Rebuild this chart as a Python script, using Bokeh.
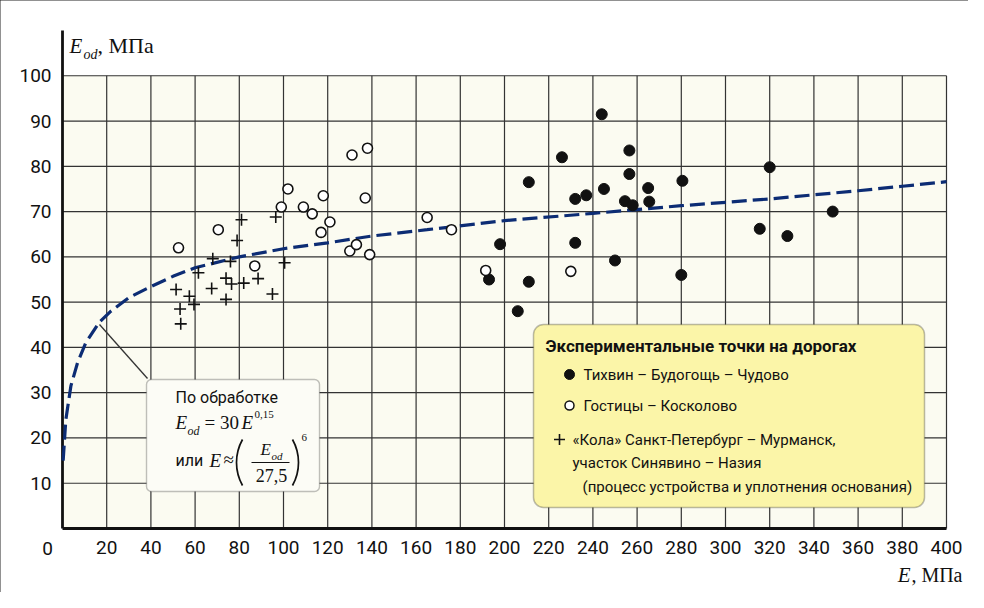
import math
from bokeh.plotting import figure
from bokeh.models import FixedTicker, Label, BoxAnnotation
from bokeh.embed import file_html
from bokeh.resources import INLINE

# ---------------- data ----------------
x_ticks = list(range(20, 401, 20))
y_ticks = list(range(10, 101, 10))

# Тихвин – Будогощь – Чудово (filled circles)
tikh_E = [244, 226, 256.5, 256.5, 211, 280.5, 320, 245, 265, 237, 232, 254.5,
          258, 265.5, 348.5, 315.5, 328, 198, 232, 250, 280, 193, 211, 206]
tikh_Eod = [91.5, 82, 83.5, 78.3, 76.5, 76.8, 79.8, 75, 75.2, 73.6, 72.8, 72.3,
            71.4, 72.2, 70, 66.2, 64.6, 62.8, 63.1, 59.2, 56, 55, 54.5, 48]

# Гостицы – Косколово (open circles)
gost_E = [52.5, 70.5, 87, 99, 102, 109, 113, 118, 121, 117, 131, 138, 137,
          130, 133, 139, 165, 176, 191.5, 230]
gost_Eod = [62, 66, 58, 71, 75, 71, 69.5, 73.5, 67.7, 65.4, 82.5, 84, 73,
            61.3, 62.7, 60.5, 68.7, 66, 57, 56.8]

# «Кола» (crosses)
kola_E = [51.4, 53.5, 53.2, 57.4, 59.5, 61.5, 68, 67.5, 74, 76, 76.5, 74, 79,
          81, 82, 88.5, 95, 96.5, 100.5]
kola_Eod = [52.8, 45.2, 48.5, 51.3, 49.5, 56.5, 59.6, 53, 55.3, 59, 54, 50.6,
            63.6, 68.2, 54.2, 55.2, 51.8, 68.8, 58.7]

# fitted curve
curve_E = [0.3, 1.5, 3.8, 6.8, 10.5, 16.6, 21.9, 30, 39, 50, 60, 80, 100, 120,
           140, 165, 200, 240, 280, 320, 360, 380, 400]
curve_Eod = [15, 24, 31.5, 36.6, 41, 45.5, 48, 51, 53.2, 55.7, 57.6, 60, 61.8,
             63.1, 64.6, 66, 68, 69.6, 71.3, 72.8, 74.6, 75.6, 76.6]

# ---------------- layout ----------------
W, H = 968, 592
# page pixels of the data origin, of E=400 and of Eod=110
PX0, PX400, PY0, PY110 = 70, 954, 536, 38
XS = 400 / (PX400 - PX0)
YS = 110 / (PY0 - PY110)


def dx(px):
    return (px - PX0) * XS


def dy(py):
    return (PY0 - py) * YS


p = figure(width=W, height=H,
           x_range=(dx(8), dx(8 + W)), y_range=(dy(8 + H), dy(8)),
           output_backend="svg", toolbar_location=None,
           min_border_left=0, min_border_right=0,
           min_border_top=0, min_border_bottom=0)
p.styles = {"outline": "1.5px solid #222", "outline-offset": "-1px"}
p.outline_line_color = None
p.background_fill_color = "white"
p.border_fill_color = "white"
p.xgrid.visible = False
p.ygrid.visible = False

COND = "Roboto"
SERIF = "Liberation Serif"
SANS = "Roboto"

for ax in (p.xaxis[0], p.yaxis[0]):
    ax.fixed_location = 0
    ax.axis_line_color = None
    ax.major_tick_line_color = None
    ax.minor_tick_line_color = None
    ax.major_tick_in = 0
    ax.major_tick_out = 0
    ax.major_label_text_font = COND
    ax.major_label_text_font_size = "19px"
    ax.major_label_text_color = "#111111"
p.xaxis.ticker = FixedTicker(ticks=x_ticks)
p.yaxis.ticker = FixedTicker(ticks=y_ticks)
p.xaxis.major_label_standoff = 12
p.yaxis.major_label_standoff = 11

# background of the grid area
p.quad(left=[0], right=[x_ticks[-1]], bottom=[0], top=[y_ticks[-1]],
       fill_color="#fbfbf1", line_color=None)
# grid
p.segment(x0=x_ticks, y0=[0] * len(x_ticks), x1=x_ticks,
          y1=[y_ticks[-1]] * len(x_ticks), line_color="#333333", line_width=1.2)
p.segment(x0=[0] * len(y_ticks), y0=y_ticks, x1=[x_ticks[-1]] * len(y_ticks),
          y1=y_ticks, line_color="#333333", line_width=1.2)
# axis lines
p.segment(x0=[0], y0=[0], x1=[x_ticks[-1]], y1=[0], line_color="#111111",
          line_width=2.8)
p.segment(x0=[0], y0=[0], x1=[0], y1=[dy(PY110)], line_color="#111111",
          line_width=2.8)

# curve
p.line(curve_E, curve_Eod, line_color="#0c2c74", line_width=3.2,
       line_dash="15 6")

# points
p.scatter(tikh_E, tikh_Eod, marker="circle", size=11, fill_color="#111111",
          line_color="#111111")
p.scatter(gost_E, gost_Eod, marker="circle", size=10, fill_color="white",
          line_color="#111111", line_width=1.6)
p.scatter(kola_E, kola_Eod, marker="cross", size=12, line_color="#111111",
          line_width=1.6)


def txt(s, px, py, size, font=COND, style="normal", align="left",
        baseline="middle", color="#111111"):
    p.add_layout(Label(x=dx(px), y=dy(py), text=s, text_font=font,
                       text_font_size=f"{size}px", text_font_style=style,
                       text_align=align, text_baseline=baseline,
                       text_color=color))


# axis titles and the corner "0"
txt("0", 55, 556, 19, align="center")
txt("E", 77, 53, 21, font=SERIF, style="italic")
txt("od", 91, 62, 14, font=SERIF, style="italic")
txt(", МПа", 105, 53, 22, font=SERIF)
txt(", МПа", 970, 582, 20, font=SERIF, align="right")
txt("E", 918, 582, 21, font=SERIF, style="italic", align="right")

# annotation box with the formula
p.add_layout(BoxAnnotation(left=dx(154), right=dx(327), top=dy(387),
                           bottom=dy(499), border_radius=5,
                           fill_color="#fcfcf6", fill_alpha=1,
                           line_color="#333333", line_width=1.4))
p.segment(x0=[dx(107)], y0=[dy(332)], x1=[dx(155)], y1=[dy(386)],
          line_color="#333333", line_width=1.3)
txt("По обработке", 183, 405, 16, font=SANS)
txt("E", 183, 430, 19, font=SERIF, style="italic")
txt("od", 195, 438, 12, font=SERIF, style="italic")
txt("= 30", 212, 430, 19, font=SERIF)
txt("E", 249, 430, 19, font=SERIF, style="italic")
txt("0,15", 262, 422, 11, font=SERIF)
txt("или", 183, 468, 16, font=SANS)
txt("E", 217, 468, 19, font=SERIF, style="italic")
txt("≈", 231, 467, 19, font=SERIF)
txt("E", 268, 457, 17, font=SERIF, style="italic")
txt("od", 279, 463, 11, font=SERIF, style="italic")
p.segment(x0=[dx(259)], y0=[dy(470)], x1=[dx(297)], y1=[dy(470)],
          line_color="#111111", line_width=1.2, level="overlay")
txt("27,5", 279, 483, 18, font=SERIF, align="center")
txt("6", 309, 445, 11, font=SERIF)
# big parentheses as thin arcs
R_P = 47
A_P = math.asin(23 / R_P)
p.arc(x=[dx(244 + R_P)], y=[dy(470)], radius=R_P, radius_units="screen",
      start_angle=math.pi - A_P, end_angle=math.pi + A_P,
      line_color="#111111", line_width=1.7, level="overlay")
p.arc(x=[dx(306 - R_P)], y=[dy(470)], radius=R_P, radius_units="screen",
      start_angle=-A_P, end_angle=A_P,
      line_color="#111111", line_width=1.7, level="overlay")

# legend box
p.add_layout(BoxAnnotation(left=dx(541), right=dx(932), top=dy(332),
                           bottom=dy(515), border_radius=10,
                           fill_color="#fbf5a8", fill_alpha=1,
                           line_color="#222222", line_width=1.5))
txt("Экспериментальные точки на дорогах", 553, 353, 17, style="bold")
p.scatter([dx(577)], [dy(382)], marker="circle", size=10,
          fill_color="#111111", line_color="#111111", level="overlay")
txt("Тихвин – Будогощь – Чудово", 591, 382, 15)
p.scatter([dx(577)], [dy(413)], marker="circle", size=9, fill_color="white",
          line_color="#111111", line_width=1.5, level="overlay")
txt("Гостицы – Косколово", 591, 413, 15)
p.scatter([dx(567)], [dy(447)], marker="cross", size=11,
          line_color="#111111", line_width=1.6, level="overlay")
txt("«Кола» Санкт-Петербург – Мурманск,", 580, 447, 15)
txt("участок Синявино – Назия", 580, 470, 15)
txt("(процесс устройства и уплотнения основания)", 590, 494, 15)

open("out.html", "w").write(file_html(p, INLINE))
